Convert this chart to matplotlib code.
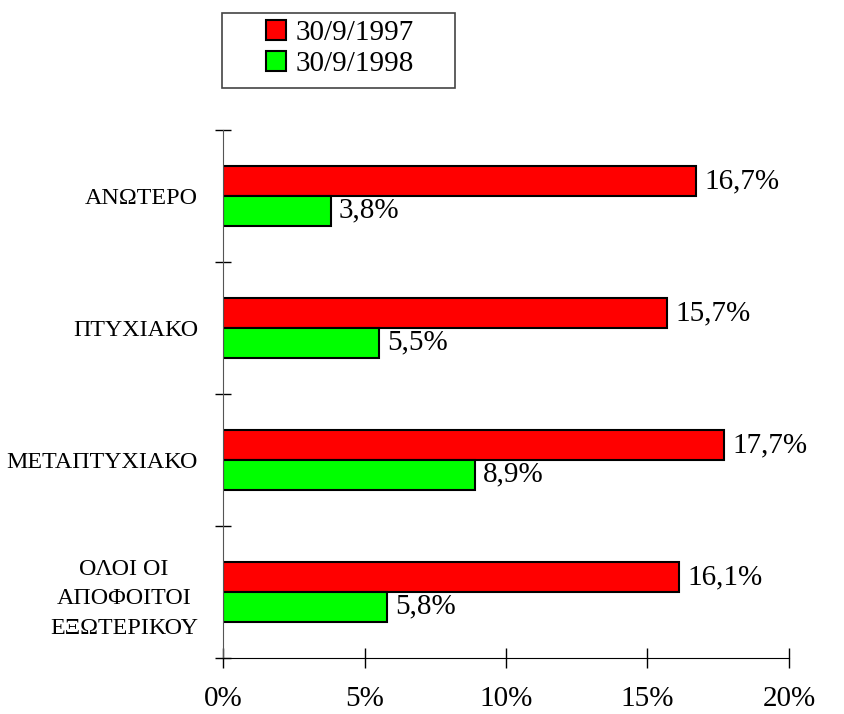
import numpy as np
import matplotlib
matplotlib.use("Agg")
import matplotlib.pyplot as plt
from matplotlib.patches import Rectangle
from matplotlib.ticker import FixedLocator, PercentFormatter

plt.rcParams['font.family'] = ['Liberation Serif', 'DejaVu Serif']

categories = ["ΑΝΩΤΕΡΟ", "ΠΤΥΧΙΑΚΟ", "ΜΕΤΑΠΤΥΧΙΑΚΟ", "ΟΛΟΙ ΟΙ\nΑΠΟΦΟΙΤΟΙ\nΕΞΩΤΕΡΙΚΟΥ"]
vals_1997 = [16.7, 15.7, 17.7, 16.1]
vals_1998 = [3.8, 5.5, 8.9, 5.8]
series_names = ["30/9/1997", "30/9/1998"]

W, H = 845, 714
fig = plt.figure(figsize=(W / 100, H / 100), dpi=100)
ax = fig.add_axes([223 / W, 1 - 658 / H, (789 - 223) / W, (658 - 130) / H])

y = np.arange(len(categories))
h = 0.225
b1 = ax.barh(y - h / 2, vals_1997, height=h, color="#ff0000", edgecolor="black", linewidth=1.5, label=series_names[0])
b2 = ax.barh(y + h / 2, vals_1998, height=h, color="#00ff00", edgecolor="black", linewidth=1.5, label=series_names[1])

for bars, vals in [(b1, vals_1997), (b2, vals_1998)]:
    for bar, v in zip(bars, vals):
        ax.annotate(f"{v:.1f}%".replace(".", ","),
                    (bar.get_width(), bar.get_y() + bar.get_height() / 2),
                    xytext=(6, 0), textcoords="offset points",
                    ha="left", va="center", fontsize=21)

ax.set_xlim(0, 20)
ax.set_ylim(len(categories) - 0.5, -0.5)
ax.xaxis.set_major_locator(FixedLocator([0, 5, 10, 15, 20]))
ax.xaxis.set_major_formatter(PercentFormatter(decimals=0))
ax.tick_params(axis="x", direction="inout", length=14, width=1, labelsize=21, pad=13)

ax.set_yticks(y)
ax.set_yticklabels(categories, multialignment="center", fontsize=17.3, linespacing=1.55)
ax.tick_params(axis="y", which="major", length=0, pad=18)
ax.yaxis.set_minor_locator(FixedLocator(np.arange(-0.5, len(categories), 1.0)))
ax.tick_params(axis="y", which="minor", direction="inout", length=11, width=1)

for s in ["top", "right"]:
    ax.spines[s].set_visible(False)
ax.spines["left"].set_color("#555555")

# legend box drawn separately (wide side padding like the original)
fig.patches.append(Rectangle((222 / W, 1 - 88 / H), (455 - 222) / W, (88 - 13) / H,
                             transform=fig.transFigure, facecolor="white",
                             edgecolor="#444444", linewidth=1.2, zorder=0))
fig.legend(handles=[b1, b2], loc="upper left", bbox_to_anchor=(266 / W, 1 - 20 / H),
           fontsize=21, frameon=False, handlelength=0.7, handleheight=0.7,
           handletextpad=0.3, borderpad=0, labelspacing=0.15, borderaxespad=0)

fig.savefig("out.png", dpi=100)
